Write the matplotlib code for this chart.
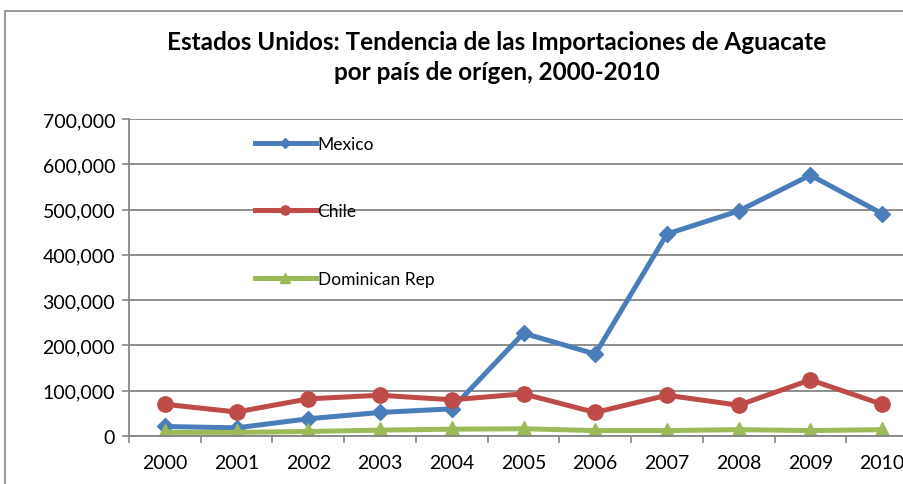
import numpy as np
import matplotlib.pyplot as plt
import matplotlib.patches as patches

years = ["2000", "2001", "2002", "2003", "2004", "2005", "2006", "2007", "2008", "2009", "2010"]
mexico = [21000, 18000, 38000, 52000, 60000, 227000, 181000, 446000, 497000, 576000, 491000]
chile = [70000, 53000, 82000, 90000, 80000, 93000, 52000, 90000, 68000, 124000, 70000]
dominican = [8000, 8000, 10000, 13000, 15000, 16000, 12000, 12000, 14000, 12000, 14000]
yticks = [0, 100000, 200000, 300000, 400000, 500000, 600000, 700000]

plt.rcParams['font.family'] = ['Lato', 'DejaVu Sans']

fig = plt.figure(figsize=(9.04, 4.85), dpi=100)
W, H = 904, 485
ax = fig.add_axes([129 / W, 1 - 437 / H, 789 / W, 317 / H])

x = np.arange(len(years))
ax.plot(x, mexico, color="#4A7EBB", lw=3.6, marker="D", ms=8, label="Mexico")
ax.plot(x, chile, color="#BE4B48", lw=3.6, marker="o", ms=11, label="Chile")
ax.plot(x, dominican, color="#9BBB59", lw=3.6, marker="^", ms=11, label="Dominican Rep")

ax.set_xlim(-0.5, len(years) - 0.5)
ax.set_ylim(0, 700000)
ax.set_yticks(yticks)
ax.set_yticklabels([f"{v:,}" for v in yticks])
ax.set_xticks(x)
ax.set_xticklabels(years)
ax.set_xticks(np.arange(-0.5, len(years), 1), minor=True)
ax.tick_params(axis="x", which="major", length=0, labelsize=14, pad=13)
ax.tick_params(axis="x", which="minor", length=5, color="#868686", width=1.2)
ax.tick_params(axis="y", length=5, color="#868686", width=1.2, labelsize=14, pad=5)

ax.grid(axis="y", color="#868686", lw=1.3)
ax.set_axisbelow(True)
for s in ["top", "right"]:
    ax.spines[s].set_visible(False)
ax.spines["left"].set_color("#868686")
ax.spines["bottom"].set_color("#868686")
ax.spines["left"].set_linewidth(1.3)
ax.spines["bottom"].set_linewidth(1.3)

ax.legend(loc="upper left", bbox_to_anchor=(0.14, 0.995), frameon=False,
          fontsize=12.5, labelspacing=2.95, handlelength=3.5, handletextpad=0.1,
          markerscale=0.6)

fig.text(497 / W, 1 - 42 / H, "Estados Unidos: Tendencia de las Importaciones de Aguacate",
         ha="center", va="center", fontsize=17.5, fontweight="bold")
fig.text(497 / W, 1 - 73 / H, "por país de orígen, 2000-2010",
         ha="center", va="center", fontsize=17.5, fontweight="bold")

fig.add_artist(patches.Rectangle((5 / W, -0.1), 1.2, 1 - 12 / H + 0.1,
                                 transform=fig.transFigure, fill=False,
                                 edgecolor="#888888", lw=1.2))

fig.savefig("out.png", dpi=100)
